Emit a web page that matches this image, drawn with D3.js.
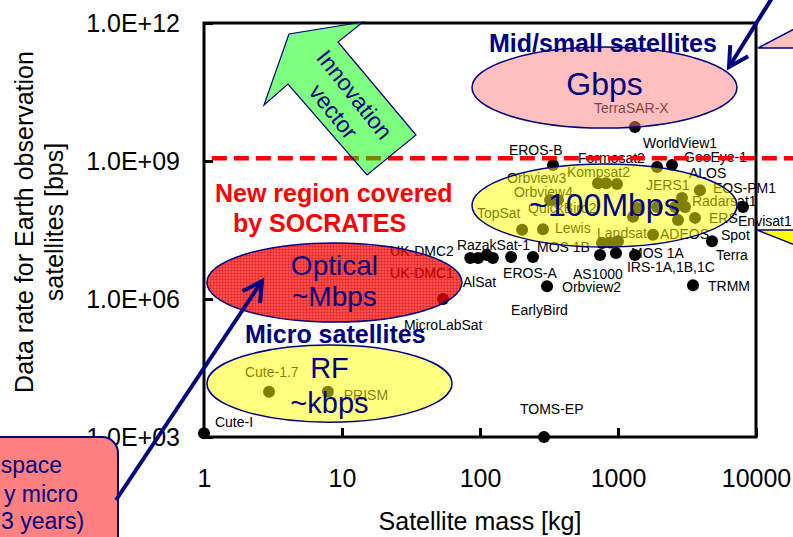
<!DOCTYPE html>
<html><head><meta charset="utf-8">
<script src="https://cdn.jsdelivr.net/npm/d3@7"></script>
<style>
body{margin:0;background:#fff}
svg{display:block}
text{font-family:"Liberation Sans",Arial,sans-serif}
</style>
</head><body>
<svg id="chart" width="793" height="537"></svg>
<script>
// ---------------- data ----------------
const massTicks = [1, 10, 100, 1000, 10000];
const rateTicks = [1e3, 1e6, 1e9, 1e12];
const rateTickLabels = ["1.0E+03", "1.0E+06", "1.0E+09", "1.0E+12"];

const satNames = ["Cute-I","Cute-1.7","PRISM","TOMS-EP","MicroLabSat","EarlyBird",
  "UK-DMC1","UK-DMC2","AlSat","RazakSat-1","EROS-A","Orbview2","MOS 1B","MOS 1A","IRS-1A",
  "TRMM","Terra","Envisat1","WorldView1","GeoEye-1","EROS-B","TerraSAR-X",
  "Formosat2","Kompsat2","QuickBird2","Orbview3","Orbview4","TopSat","Lewis","JERS1",
  "Landsat","IRS-1C","AS1000","ADEOS","Spot","Spot5","EOS-PM1","EOS-AM1","ALOS","Radarsat1","ERS","ADEOS-II"];
const satMass = [1, 2.96, 7.9, 291, 54, 306,
  85, 97, 112, 124, 168, 242, 741, 967, 1327,
  3494, 4800, 8050, 1918, 2462, 338, 1327,
  716, 819, 983, 322, 367, 202, 286, 1285,
  766, 875, 1000, 1795, 1373, 1918, 3927, 2910, 2588, 3060, 2722, 3614];
const satRate = [1200, 9600, 9600, 1000, 1.0e6, 1.9e6,
  7.8e6, 7.8e6, 9.05e6, 7.8e6, 8.2e6, 8.2e6, 9.05e6, 1.0e7, 9.05e6,
  2.0e6, 1.8e7, 1.0e8, 7.4e8, 8.2e8, 8.2e8, 5.5e9,
  3.3e8, 3.3e8, 3.16e8, 1.42e8, 1.42e8, 3.2e7, 3.3e7, 6.1e7,
  1.65e7, 1.7e7, 1.8e7, 2.5e7, 9.5e7, 1.0e8, 2.3e8, 1.57e8, 1.0e8, 1.0e8, 5.2e7, 5.8e7];

// label anchors (left end of text baseline), in data units
const labelNames = ["TerraSAR-X","WorldView1","GeoEye-1","Formosat2","EROS-B","ALOS","Kompsat2",
  "Orbview3","Orbview4","JERS1","EOS-PM1","Radarsat1","Envisat1","ERS","Spot","Terra","TRMM",
  "Landsat","ADEOS","MOS 1A","IRS-1A,1B,1C","AS1000","Orbview2","MOS 1B","RazakSat-1",
  "UK-DMC2","UK-DMC1","AlSat","EROS-A","EarlyBird","MicroLabSat","TopSat","QuickBird2","Lewis",
  "Cute-1.7","PRISM","Cute-I","TOMS-EP"];
const labelMass = [670,1517,3008,513,162,3268,427,
  157,176,1596,4880,3436,7410,4565,5575,5130,4490,
  705,2015,1243,1162,472,393,259,68,
  22.3,22.3,75,147,168,28.1,95,223,349,
  1.98,10.3,1.2,195];
const labelRate = [1.1e10,1.92e9,9.5e8,9.1e8,1.35e9,4.27e8,4.49e8,
  3.32e8,1.65e8,2.34e8,2.01e8,1.05e8,3.86e7,4.49e7,1.92e7,7.05e6,1.49e6,
  2.12e7,2.01e7,7.78e6,3.86e6,2.72e6,1.42e6,1.05e7,1.16e7,
  8.6e6,2.86e6,1.82e6,2.86e6,4.49e5,2.12e5,5.77e7,7.41e7,2.72e7,
  2.01e4,6.37e3,1.65e3,3.16e3];

// capability regions (ellipses), extents in data units
const regionLines = [["Gbps"], ["~100Mbps"], ["Optical", "~Mbps"], ["RF", "~kbps"]];
const regionMass = [[87.5, 7280], [87.5, 7280], [1.05, 74], [1.05, 62.7]];
const regionRate = [[5.2e9, 3.0e11], [1.35e7, 8.6e8], [3.16e5, 1.65e7], [2.1e3, 1.0e5]];

const socratesRate = 1.15e9;

// ---------------- chart ----------------
const W = 793, H = 537;
const svg = d3.select("#chart");
const x = d3.scaleLog().domain([1, 10000]).range([204, 756]);
const y = d3.scaleLog().domain([1e3, 1e12]).range([437, 23]);
const navy = "#000080";
const FONT = '"Liberation Sans", Arial, sans-serif';

// mesh pattern for the optical region
const defs = svg.append("defs");
const pat = defs.append("pattern").attr("id", "mesh").attr("patternUnits", "userSpaceOnUse")
  .attr("width", 3).attr("height", 3);
pat.append("rect").attr("width", 3).attr("height", 3).attr("fill", "#ff0000").attr("fill-opacity", 0.7);
pat.append("path").attr("d", "M0,0.5H3M0.5,0V3").attr("stroke", "#b00000").attr("stroke-opacity", 0.25).attr("stroke-width", 1);

// frame
svg.append("rect").attr("x", x(1)).attr("y", y(1e12))
  .attr("width", x(10000) - x(1)).attr("height", y(1e3) - y(1e12))
  .attr("fill", "none").attr("stroke", "#000").attr("stroke-width", 3);

// axes
const gx = svg.append("g").attr("transform", `translate(0,${y(1e3)})`)
  .call(d3.axisBottom(x).tickValues(massTicks).tickSize(-9).tickPadding(32).tickFormat(d3.format("d")));
gx.select(".domain").remove();
gx.attr("font-size", 25).attr("font-family", FONT);
gx.selectAll("line").attr("stroke-width", 3);
gx.selectAll("text").attr("fill", "#000");

const gy = svg.append("g").attr("transform", `translate(${x(1)},0)`)
  .call(d3.axisLeft(y).tickValues(rateTicks).tickSize(-9).tickPadding(24)
    .tickFormat(d => rateTickLabels[rateTicks.indexOf(d)]));
gy.select(".domain").remove();
gy.attr("font-size", 25).attr("font-family", FONT);
gy.selectAll("line").attr("stroke-width", 3);
gy.selectAll("text").attr("fill", "#000");

// axis titles
svg.append("text").attr("x", (x(1) + x(10000)) / 2).attr("y", 530)
  .attr("text-anchor", "middle").attr("font-size", 25).text("Satellite mass [kg]");
const yt = svg.append("g").attr("transform", "translate(0,222) rotate(-90)");
yt.append("text").attr("x", 0).attr("y", 33).attr("text-anchor", "middle").attr("font-size", 25)
  .text("Data rate for Earth observation");
yt.append("text").attr("x", 0).attr("y", 63).attr("text-anchor", "middle").attr("font-size", 25)
  .text("satellites [bps]");

// points
svg.append("g").selectAll("circle").data(satMass).join("circle")
  .attr("cx", d => x(d)).attr("cy", (d, i) => y(satRate[i])).attr("r", 6).attr("fill", "#000");

// point labels
svg.append("g").selectAll("text").data(labelNames).join("text")
  .attr("x", (d, i) => x(labelMass[i])).attr("y", (d, i) => y(labelRate[i]))
  .attr("font-size", 14).attr("fill", "#000").text(d => d);

// red dashed SOCRATES boundary
svg.append("line").attr("x1", x(1.14)).attr("x2", W).attr("y1", y(socratesRate)).attr("y2", y(socratesRate))
  .attr("stroke", "#ff0000").attr("stroke-width", 4.5).attr("stroke-dasharray", "15 7");

// ellipses
const regionFill = ["#ff8080", "#ffff00", "url(#mesh)", "#ffff00"];
const regionOpacity = [0.5, 0.5, 1, 0.5];
const regionFont = [32, 32, 28, 29];
const regionBase = [[7.5], [10], [-7.5, 23.5], [-5.5, 29]];
regionLines.forEach((lines, i) => {
  const x0 = x(regionMass[i][0]), x1 = x(regionMass[i][1]);
  const y0 = y(regionRate[i][1]), y1 = y(regionRate[i][0]);
  const cx = (x0 + x1) / 2, cy = (y0 + y1) / 2;
  svg.append("ellipse").attr("cx", cx).attr("cy", cy).attr("rx", (x1 - x0) / 2).attr("ry", (y1 - y0) / 2)
    .attr("fill", regionFill[i]).attr("fill-opacity", regionOpacity[i])
    .attr("stroke", navy).attr("stroke-width", 1.5);
});
regionLines.forEach((lines, i) => {
  const x0 = x(regionMass[i][0]), x1 = x(regionMass[i][1]);
  const y0 = y(regionRate[i][1]), y1 = y(regionRate[i][0]);
  const cx = (x0 + x1) / 2, cy = (y0 + y1) / 2;
  lines.forEach((t, j) => {
    svg.append("text").attr("x", cx).attr("y", cy + regionBase[i][j]).attr("text-anchor", "middle")
      .attr("font-size", regionFont[i]).attr("fill", navy).text(t);
  });
});

// region titles
svg.append("text").attr("x", 489).attr("y", 52).attr("font-size", 25).attr("font-weight", "bold")
  .attr("fill", navy).text("Mid/small satellites");
svg.append("text").attr("x", 245).attr("y", 343).attr("font-size", 25).attr("font-weight", "bold")
  .attr("fill", navy).text("Micro satellites");
svg.append("text").attr("x", 215).attr("y", 202).attr("font-size", 25).attr("font-weight", "bold")
  .attr("fill", "#ff0000").text("New region covered");
svg.append("text").attr("x", 233).attr("y", 232).attr("font-size", 25).attr("font-weight", "bold")
  .attr("fill", "#ff0000").text("by SOCRATES");

// innovation vector (block arrow)
const arrowPts = [[363,22],[289,34],[264,105],[288,84],[367,175],[416,135],[338,42]];
svg.append("polygon").attr("points", arrowPts.map(p => p.join(",")).join(" "))
  .attr("fill", "#00ff00").attr("fill-opacity", 0.5).attr("stroke", navy).attr("stroke-width", 1.2);
const iv = svg.append("g").attr("transform", "translate(344,103) rotate(51.5)");
iv.append("text").attr("x", 0).attr("y", -13.5).attr("dy", "0.35em").attr("text-anchor", "middle")
  .attr("font-size", 23).attr("fill", navy).text("Innovation");
iv.append("text").attr("x", 0).attr("y", 13.5).attr("dy", "0.35em").attr("text-anchor", "middle")
  .attr("font-size", 23).attr("fill", navy).text("vector");

// callout pointers at right edge
svg.append("polygon").attr("points", "758,48 800,26 800,48")
  .attr("fill", "#ffc0c0").attr("stroke", navy).attr("stroke-width", 1.5);
svg.append("polygon").attr("points", "757,230 800,230 800,247")
  .attr("fill", "#ffff00").attr("stroke", navy).attr("stroke-width", 1.5);

// callout box bottom-left
svg.append("rect").attr("x", -40).attr("y", 437).attr("width", 158).attr("height", 140).attr("rx", 16)
  .attr("fill", "#ff8080").attr("stroke", navy).attr("stroke-width", 2);
svg.append("text").attr("x", 62).attr("y", 473).attr("text-anchor", "end").attr("font-size", 23).attr("fill", navy).text("space");
svg.append("text").attr("x", 78).attr("y", 502).attr("text-anchor", "end").attr("font-size", 23).attr("fill", navy).text("y micro");
svg.append("text").attr("x", 1).attr("y", 529).attr("text-anchor", "start").attr("font-size", 23).attr("fill", navy).text("3 years)");

// pointer arrows
function lineArrow(x1, y1, x2, y2, head) {
  svg.append("line").attr("x1", x1).attr("y1", y1).attr("x2", x2).attr("y2", y2)
    .attr("stroke", navy).attr("stroke-width", 4);
  const a = Math.atan2(y2 - y1, x2 - x1);
  const p = s => [x2 - head * Math.cos(a + s), y2 - head * Math.sin(a + s)];
  const l = p(0.5), r = p(-0.5);
  svg.append("path").attr("d", `M${l[0]},${l[1]}L${x2},${y2}L${r[0]},${r[1]}`)
    .attr("fill", "none").attr("stroke", navy).attr("stroke-width", 4).attr("stroke-linejoin", "miter");
}
lineArrow(116, 500, 262, 281, 22);
lineArrow(772, -2, 729, 67, 22);
</script>
</body></html>
